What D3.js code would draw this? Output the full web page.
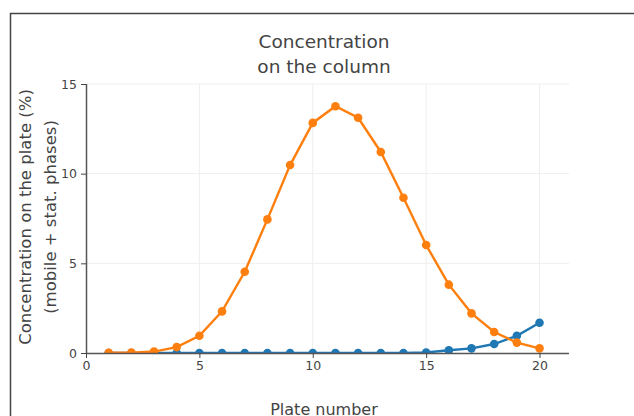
<!DOCTYPE html>
<html lang="en">
<head>
    <meta charset="UTF-8">
    <script src="https://cdnjs.cloudflare.com/ajax/libs/d3/7.8.5/d3.min.js"></script>
    <title>Concentration on the column</title>
    <style>
        body { margin: 0; background: #fff; }
        svg { display: block; font-family: "DejaVu Sans", Verdana, sans-serif; }
        .tick text { fill: #444; font-size: 12.5px; }
        .grid line { stroke: #eee; }
    </style>
</head>
<body>
    <div id="chart"></div>
    <script>
        // plate numbers and the two components
        var plates = d3.range(1, 21);
        var compA = [0, 0, 0, 0, 0, 0, 0, 0, 0, 0, 0, 0, 0, 0, 0.03, 0.15, 0.26, 0.5, 0.96, 1.69];
        var compB = [0.01, 0.02, 0.08, 0.33, 0.96, 2.32, 4.53, 7.45, 10.48, 12.83, 13.76, 13.12, 11.21, 8.66, 6.02, 3.81, 2.21, 1.17, 0.58, 0.26];
        var xTicks = [0, 5, 10, 15, 20];
        var yTicks = [0, 5, 10, 15];
        var colors = ['#1f77b4', '#ff7f0e'];

        var width = 634, height = 416;
        var pLeft = 86, pRight = 569, pTop = 84, pBottom = 353;

        var svg = d3.select('#chart').append('svg').attr('width', width).attr('height', height);

        // frame (top and left edges visible)
        svg.append('path').attr('d', 'M10.5,' + height + 'V13.5H' + width)
            .attr('fill', 'none').attr('stroke', '#444').attr('stroke-width', 1.5);

        var x = d3.scaleLinear().domain([0, 21.3]).range([pLeft, pRight]);
        var y = d3.scaleLinear().domain([0, 15]).range([pBottom, pTop]);

        // grid
        svg.append('g').attr('class', 'grid').selectAll('line').data(xTicks.slice(1)).enter().append('line')
            .attr('x1', function(d){ return x(d); }).attr('x2', function(d){ return x(d); })
            .attr('y1', pTop).attr('y2', pBottom);
        svg.append('g').attr('class', 'grid').selectAll('line').data(yTicks.slice(1)).enter().append('line')
            .attr('x1', pLeft).attr('x2', pRight)
            .attr('y1', function(d){ return y(d); }).attr('y2', function(d){ return y(d); });

        svg.append('clipPath').attr('id', 'plotclip').append('rect')
            .attr('x', pLeft).attr('y', pTop - 6).attr('width', pRight - pLeft).attr('height', pBottom - pTop + 6);

        var line = d3.line().x(function(d){ return x(d[0]); }).y(function(d){ return y(d[1]); });
        var series = [compA, compB];
        var traces = svg.append('g').attr('clip-path', 'url(#plotclip)');
        series.forEach(function(vals, i){
            var pts = plates.map(function(p, j){ return [p, vals[j]]; });
            traces.append('path').datum(pts).attr('d', line)
                .attr('fill', 'none').attr('stroke', colors[i]).attr('stroke-width', 2.4);
            traces.selectAll('circle.s' + i).data(pts).enter().append('circle')
                .attr('class', 's' + i)
                .attr('cx', function(d){ return x(d[0]); })
                .attr('cy', function(d){ return y(d[1]); })
                .attr('r', 4.3).attr('fill', colors[i]);
        });

        // axes
        var xAxis = svg.append('g').attr('transform', 'translate(0,' + pBottom + ')')
            .call(d3.axisBottom(x).tickValues(xTicks).tickSize(5).tickPadding(3));
        var yAxis = svg.append('g').attr('transform', 'translate(' + pLeft + ',0)')
            .call(d3.axisLeft(y).tickValues(yTicks).tickSize(5).tickPadding(4));
        [xAxis, yAxis].forEach(function(a){
            a.select('.domain').attr('stroke', '#555').attr('stroke-width', 1.5);
            a.selectAll('.tick line').attr('stroke', '#444');
            a.attr('font-family', null).attr('font-size', null);
        });
        xAxis.select('.domain').attr('d', 'M' + pLeft + ',0.5H' + pRight);
        yAxis.select('.domain').attr('d', 'M0.5,' + pBottom + 'V' + pTop);

        // titles
        var title = svg.append('text').attr('text-anchor', 'middle').attr('fill', '#444').attr('font-size', 18.5);
        title.append('tspan').attr('x', 324).attr('y', 48).text('Concentration');
        title.append('tspan').attr('x', 324).attr('y', 73).text('on the column');

        svg.append('text').attr('x', 324).attr('y', 415).attr('text-anchor', 'middle')
            .attr('fill', '#444').attr('font-size', 16).text('Plate number');

        var ytitle = svg.append('text').attr('transform', 'rotate(-90)').attr('text-anchor', 'middle')
            .attr('fill', '#444').attr('font-size', 16.5);
        ytitle.append('tspan').attr('x', -217).attr('y', 31).text('Concentration on the plate (%)');
        ytitle.append('tspan').attr('x', -217).attr('y', 55.5).text('(mobile + stat. phases)');
    </script>
</body>
</html>
